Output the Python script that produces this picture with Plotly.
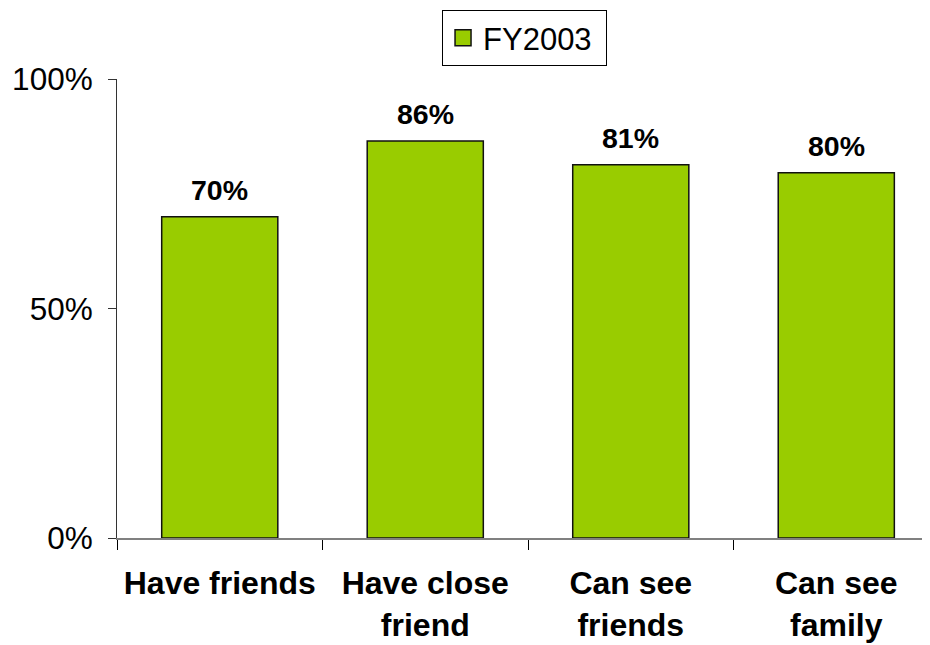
import plotly.graph_objects as go

categories = ["Have friends", "Have close<br>friend", "Can see<br>friends", "Can see<br>family"]
values = [0.70, 0.865, 0.813, 0.796]
series_name = "FY2003"
y_ticks = [0, 0.5, 1.0]
y_tick_labels = ["0%", "50%", "100%"]

FONT = "Arial, Liberation Sans, sans-serif"
GREEN = "#99CC00"

fig = go.Figure()
fig.add_trace(go.Bar(
    x=categories, y=values, width=0.565,
    marker=dict(color=GREEN, line=dict(color="#111111", width=1.5)),
    showlegend=False, name=series_name,
))
# legend entry
fig.add_trace(go.Scatter(
    x=[None], y=[None], mode="markers", name=series_name + "\u00a0",
    marker=dict(symbol="square", size=16, color=GREEN, line=dict(color="#111111", width=1.5)),
))

for c, v in zip(categories, values):
    fig.add_annotation(x=c, y=v, text=f"<b>{v:.0%}</b>", showarrow=False,
                       yanchor="bottom", yshift=9,
                       font=dict(family=FONT, size=28.5, color="#000000"))

fig.update_layout(
    width=922, height=637,
    margin=dict(l=109, r=0, t=71, b=107, autoexpand=False),
    paper_bgcolor="white", plot_bgcolor="white",
    font=dict(family=FONT, color="#000000"),
    legend=dict(x=0.3998, y=1.150, xanchor="left", yanchor="top",
                bordercolor="#000000", borderwidth=1,
                font=dict(family=FONT, size=31, color="#000000"),
                bgcolor="white"),
    xaxis=dict(range=[-0.5, 3.456], showgrid=False, showline=True,
               linecolor="#808080", linewidth=2, automargin=False,
               ticks="outside", ticklen=10, tickcolor="#000000",
               tickson="boundaries", ticklabelstandoff=16,
               tickfont=dict(family=FONT, size=32, color="#000000"),
               tickprefix="<b>", ticksuffix="</b>"),
    yaxis=dict(range=[0, 1], tickvals=y_ticks, ticktext=y_tick_labels,
               showgrid=False, showline=True, linecolor="#333333", linewidth=1,
               ticks="outside", ticklen=8, tickcolor="#333333", automargin=False,
               ticklabelstandoff=9,
               tickfont=dict(family=FONT, size=31.5, color="#000000"),
               zeroline=False),
)

fig.write_html("out.html")
